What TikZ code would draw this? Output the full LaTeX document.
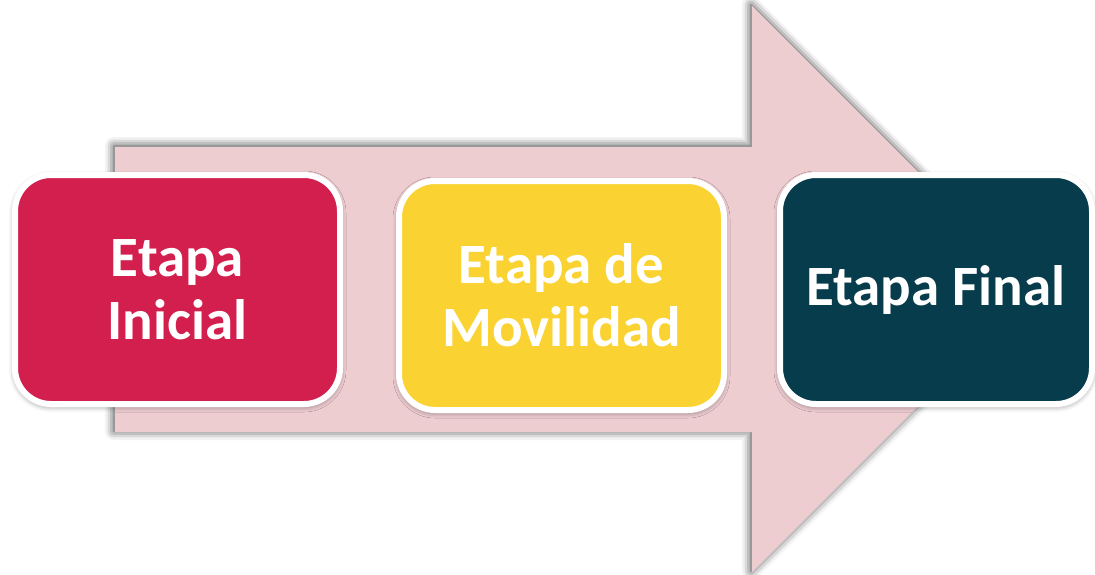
\documentclass[tikz,border=0pt]{standalone}
\usepackage{fontspec}
\setmainfont{Carlito}
\usetikzlibrary{shadows.blur}

\definecolor{rosa}{RGB}{238,205,209}
\definecolor{rojo}{RGB}{210,31,78}
\definecolor{amarillo}{RGB}{250,211,50}
\definecolor{petroleo}{RGB}{7,60,76}

\tikzset{
  etapa/.style={draw=white, line width=6pt, rounded corners=36pt,
    minimum width=325pt, minimum height=229pt, inner sep=0pt,
    text=white, align=center, font=\bfseries\fontsize{57}{63}\selectfont,
    blur shadow={shadow xshift=0pt, shadow yshift=-2pt,
      shadow blur radius=6pt, shadow opacity=50}},
  sombra/.style={blur shadow={shadow xshift=-1pt, shadow yshift=1pt,
      shadow blur radius=9pt, shadow opacity=80}}
}

\begin{document}
\begin{tikzpicture}[x=1pt, y=-1pt]
    \useasboundingbox (0,0) rectangle (1095,574);

    % Flecha de fondo
    \fill[rosa, sombra] (115,147) -- (752,147) -- (752,6) -- (1035,289)
      -- (752,572) -- (752,432) -- (115,432) -- cycle;

    % Etapas
    \node[etapa, fill=rojo] (inicial) at (177.5,289.5) {Etapa\\Inicial};
    \node[etapa, fill=amarillo] (movilidad) at (561.5,295.5) {Etapa de\\Movilidad};
    \node[etapa, fill=petroleo, minimum width=312pt] (final) at (936,289.5) {Etapa Final};

\end{tikzpicture}
\end{document}
